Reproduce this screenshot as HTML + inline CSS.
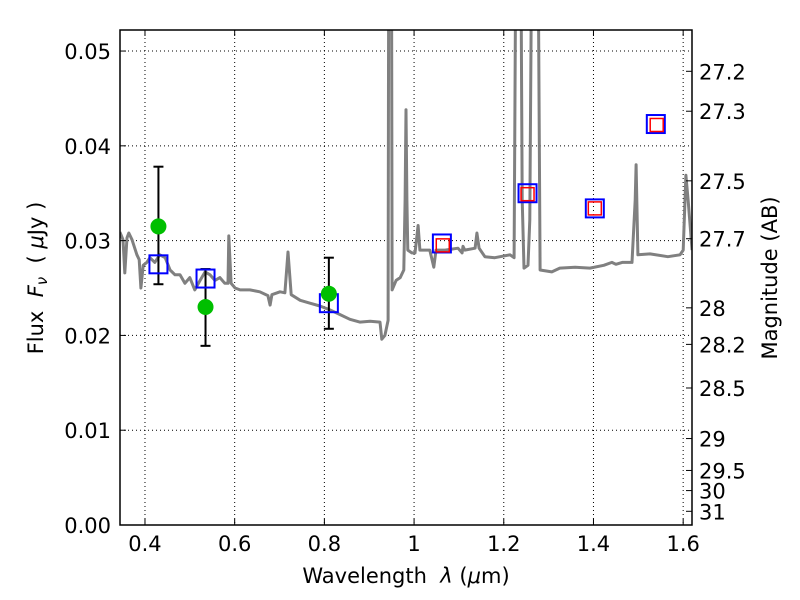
<!DOCTYPE html>
<html><head><meta charset="utf-8"><style>
body{margin:0;background:#fff;}
svg{display:block;font-family:"DejaVu Sans","Liberation Sans",sans-serif;}
</style></head><body>
<svg id="chart" width="800" height="600" viewBox="0 0 800 600">
<rect width="800" height="600" fill="#fff"/>
<g id="grid"></g>
<g id="plot"></g>
<g id="axes"></g>
<text x="406" y="583" font-size="21" text-anchor="middle">Wavelength&#160; <tspan font-style="italic">λ</tspan> (<tspan font-style="italic">μ</tspan>m)</text>
<text transform="translate(43,278) rotate(-90)" font-size="21" text-anchor="middle">Flux&#160; <tspan font-style="italic">F<tspan font-size="15" dy="4">ν</tspan></tspan><tspan dy="-4">&#160; (&#160;</tspan><tspan font-style="italic">μ</tspan>Jy )</text>
<text transform="translate(777,278) rotate(-90)" font-size="21" text-anchor="middle">Magnitude (AB)</text>
</svg>
<script>
const specWl=[0.344,0.351,0.355,0.360,0.364,0.371,0.382,0.387,0.391,0.396,0.404,0.411,0.422,0.433,0.445,0.456,0.467,0.478,0.489,0.500,0.511,0.523,0.534,0.545,0.556,0.567,0.578,0.585,0.587,0.592,0.601,0.612,0.634,0.656,0.674,0.679,0.683,0.701,0.712,0.719,0.726,0.746,0.768,0.790,0.812,0.835,0.857,0.879,0.902,0.924,0.928,0.935,0.942,0.944,0.949,0.951,0.960,0.969,0.977,0.980,0.982,0.984,0.986,0.995,1.002,1.009,1.013,1.035,1.044,1.049,1.069,1.098,1.107,1.109,1.113,1.136,1.140,1.145,1.158,1.180,1.214,1.223,1.229,1.236,1.241,1.245,1.254,1.258,1.265,1.274,1.281,1.307,1.325,1.359,1.392,1.423,1.441,1.450,1.464,1.486,1.493,1.495,1.499,1.526,1.566,1.593,1.600,1.606,1.611,1.620];
const specFlux=[0.0309,0.0301,0.0266,0.0303,0.0308,0.0301,0.0285,0.0280,0.0250,0.0274,0.0277,0.0282,0.0277,0.0285,0.0282,0.0269,0.0264,0.0264,0.0255,0.0261,0.0248,0.0258,0.0267,0.0264,0.0258,0.0261,0.0255,0.0255,0.0305,0.0255,0.0250,0.0248,0.0248,0.0246,0.0242,0.0232,0.0243,0.0246,0.0245,0.0288,0.0243,0.0237,0.0234,0.0231,0.0227,0.0222,0.0217,0.0214,0.0215,0.0214,0.0196,0.0200,0.0216,0.0800,0.0800,0.0248,0.0258,0.0261,0.0269,0.0343,0.0438,0.0343,0.0290,0.0287,0.0287,0.0316,0.0290,0.0290,0.0272,0.0290,0.0290,0.0292,0.0287,0.0294,0.0290,0.0292,0.0308,0.0292,0.0283,0.0282,0.0285,0.0282,0.0800,0.0800,0.0343,0.0271,0.0274,0.0322,0.0800,0.0800,0.0269,0.0267,0.0271,0.0272,0.0271,0.0274,0.0277,0.0275,0.0277,0.0277,0.0343,0.0380,0.0285,0.0286,0.0283,0.0285,0.0290,0.0369,0.0343,0.0290];
const photWl=[0.430,0.535,0.810];
const photFlux=[0.0315,0.0230,0.0244];
const photErrLo=[0.0254,0.0189,0.0207];
const photErrHi=[0.0378,0.0270,0.0282];
const modelWl=[0.430,0.535,0.810,1.062,1.253,1.403,1.539];
const modelFlux=[0.0275,0.0260,0.0234,0.0297,0.0350,0.0334,0.0423];
const nirWl=[1.064,1.253,1.403,1.541];
const nirFlux=[0.0295,0.0349,0.0334,0.0422];
const xTicks=[0.4,0.6,0.8,1.0,1.2,1.4,1.6];
const xTickLabels=["0.4","0.6","0.8","1","1.2","1.4","1.6"];
const yTicks=[0,0.01,0.02,0.03,0.04,0.05];
const yTickLabels=["0.00","0.01","0.02","0.03","0.04","0.05"];
const magTicks=[27.2,27.3,27.5,27.7,28,28.2,28.5,29,29.5,30,31];

const L=120,R=692,T=30,B=525;
const X0=0.3443,X1=1.6197,Y0=0,Y1=0.05222;
const sx=v=>L+(v-X0)/(X1-X0)*(R-L);
const sy=v=>B-(v-Y0)/(Y1-Y0)*(B-T);
const NS="http://www.w3.org/2000/svg";
function mk(parent,tag,attrs){const e=document.createElementNS(NS,tag);for(const k in attrs)e.setAttribute(k,attrs[k]);document.getElementById(parent).appendChild(e);return e;}

xTicks.forEach((v,i)=>{
  const g=mk('grid','line',{x1:sx(v),x2:sx(v),y1:T,y2:B,stroke:'#000','stroke-width':1,'stroke-dasharray':'1,3'});
  
  
  const t=mk('axes','line',{x1:sx(v),x2:sx(v),y1:B,y2:B-6,stroke:'#000'});
  
  
  const t2=mk('axes','line',{x1:sx(v),x2:sx(v),y1:T,y2:T+6,stroke:'#000'});
  
  
  const l=mk('axes','text',{x:sx(v),y:B+26,'font-size':21,'text-anchor':'middle'});
  l.textContent=xTickLabels[i];
  
  
});
yTicks.forEach((v,i)=>{
  const g=mk('grid','line',{x1:L,x2:R,y1:sy(v),y2:sy(v),stroke:'#000','stroke-width':1,'stroke-dasharray':'1,3'});
  
  
  const t=mk('axes','line',{x1:L,x2:L+6,y1:sy(v),y2:sy(v),stroke:'#000'});
  
  
  const l=mk('axes','text',{x:L-9,y:sy(v)+8,'font-size':21,'text-anchor':'end'});
  l.textContent=yTickLabels[i];
  
  
});
magTicks.forEach(m=>{
  const f=Math.pow(10,(23.9-m)/2.5);
  const y=sy(f);
  const t=mk('axes','line',{x1:R,x2:R-6,y1:y,y2:y,stroke:'#000'});
  
  
  const l=mk('axes','text',{x:R+7,y:y+8,'font-size':21});
  l.textContent=String(m);
  
  
});

const clip=mk('plot','clipPath',{id:'pc'});
const cr=document.createElementNS(NS,'rect');
cr.setAttribute('x',L);cr.setAttribute('y',T);cr.setAttribute('width',R-L);cr.setAttribute('height',B-T);
clip.appendChild(cr);
const pts=specWl.map((w,i)=>sx(w).toFixed(1)+','+sy(specFlux[i]).toFixed(1)).join(' ');
const sp=mk('plot','polyline',{points:pts,fill:'none',stroke:'#808080','stroke-width':3,'stroke-linejoin':'round','clip-path':'url(#pc)'});



photWl.forEach((w,i)=>{
  const x=sx(w);
  const e=mk('plot','line',{x1:x,x2:x,y1:sy(photErrLo[i]),y2:sy(photErrHi[i]),stroke:'#000','stroke-width':2});
  
  
  [photErrLo[i],photErrHi[i]].forEach(v=>{
    const c=mk('plot','line',{x1:x-5,x2:x+5,y1:sy(v),y2:sy(v),stroke:'#000','stroke-width':2});
    
    
  });
});
modelWl.forEach((w,i)=>{
  const r=mk('plot','rect',{x:sx(w)-9,y:sy(modelFlux[i])-9,width:18,height:18,fill:'none',stroke:'#0000ff','stroke-width':2});
  
  
});
nirWl.forEach((w,i)=>{
  const r=mk('plot','rect',{x:sx(w)-6.5,y:sy(nirFlux[i])-6.5,width:13,height:13,fill:'none',stroke:'#ff0000','stroke-width':1.5});
  
  
});
photWl.forEach((w,i)=>{
  const c=mk('plot','circle',{cx:sx(w),cy:sy(photFlux[i]),r:8,fill:'#00bf00'});
  
  
});
const fr=mk('axes','rect',{x:L,y:T,width:R-L,height:B-T,fill:'none',stroke:'#000','stroke-width':1.5});


</script>
</body></html>
